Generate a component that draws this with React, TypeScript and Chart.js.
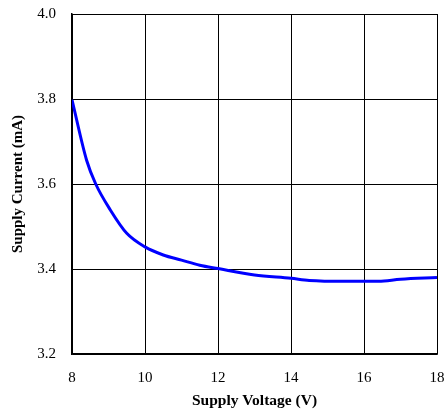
import React, { useEffect, useRef } from "react";
import { Chart, registerables } from "chart.js";

Chart.register(...registerables);

const voltage = [8, 8.4, 8.65, 9.05, 9.5, 10, 10.5, 11, 11.5, 12, 13, 14, 14.5, 15.5, 16.4, 17, 18];
const current = [3.798, 3.656, 3.6, 3.539, 3.484, 3.452, 3.433, 3.421, 3.409, 3.401, 3.386, 3.378, 3.373, 3.371, 3.371, 3.376, 3.38];

const xTicks = [8, 10, 12, 14, 16, 18];
const yTicks = [3.2, 3.4, 3.6, 3.8, 4.0];

export default function App() {
  const ref = useRef<HTMLCanvasElement>(null);
  useEffect(() => {
    document.body.style.margin = "0";
    const family = "'Liberation Serif', 'Times New Roman', serif";
    const font = { family, size: 15 };
    const chart = new Chart(ref.current!, {
      type: "line",
      data: {
        datasets: [
          {
            data: voltage.map((v, i) => ({ x: v, y: current[i] })),
            borderColor: "#0000ff",
            borderWidth: 3,
            pointRadius: 0,
            cubicInterpolationMode: "monotone",
            fill: false,
          },
        ],
      },
      options: {
        animation: false,
        responsive: false,
        maintainAspectRatio: false,
        layout: { padding: { left: 0, right: 8, top: 14, bottom: 0 } },
        plugins: { legend: { display: false }, tooltip: { enabled: false } },
        scales: {
          x: {
            type: "linear",
            min: 8,
            max: 18,
            afterBuildTicks: (s: any) => {
              s.ticks = xTicks.map((v) => ({ value: v }));
            },
            afterFit: (s: any) => {
              s.height = 59;
              s.paddingLeft = 0;
              s.paddingRight = 0;
            },
            ticks: { color: "#000", font, padding: 15, maxRotation: 0 },
            grid: { color: "#000", lineWidth: 1, tickLength: 0 },
            border: { color: "#000", width: 1.5 },
            title: {
              display: true,
              text: "Supply Voltage (V)",
              color: "#000",
              font: { family, size: 15.5, weight: "bold" },
              padding: { top: 0, bottom: 3 },
            },
          },
          y: {
            min: 3.2,
            max: 4.0,
            afterBuildTicks: (s: any) => {
              s.ticks = yTicks.map((v) => ({ value: v }));
            },
            afterFit: (s: any) => {
              s.width = 72;
              s.paddingTop = 0;
              s.paddingBottom = 0;
            },
            ticks: {
              color: "#000",
              font,
              padding: 16,
              callback: (v: any) => Number(v).toFixed(1),
            },
            grid: { color: "#000", lineWidth: 1, tickLength: 0 },
            border: { color: "#000", width: 1.5 },
            title: {
              display: true,
              text: "Supply Current (mA)",
              color: "#000",
              font: { family, size: 15, weight: "bold" },
              padding: { top: 9, bottom: 0 },
            },
          },
        },
      },
    } as any);
    return () => chart.destroy();
  }, []);
  return (
    <div style={{ width: 445, height: 413 }}>
      <canvas ref={ref} width={445} height={413} />
    </div>
  );
}
